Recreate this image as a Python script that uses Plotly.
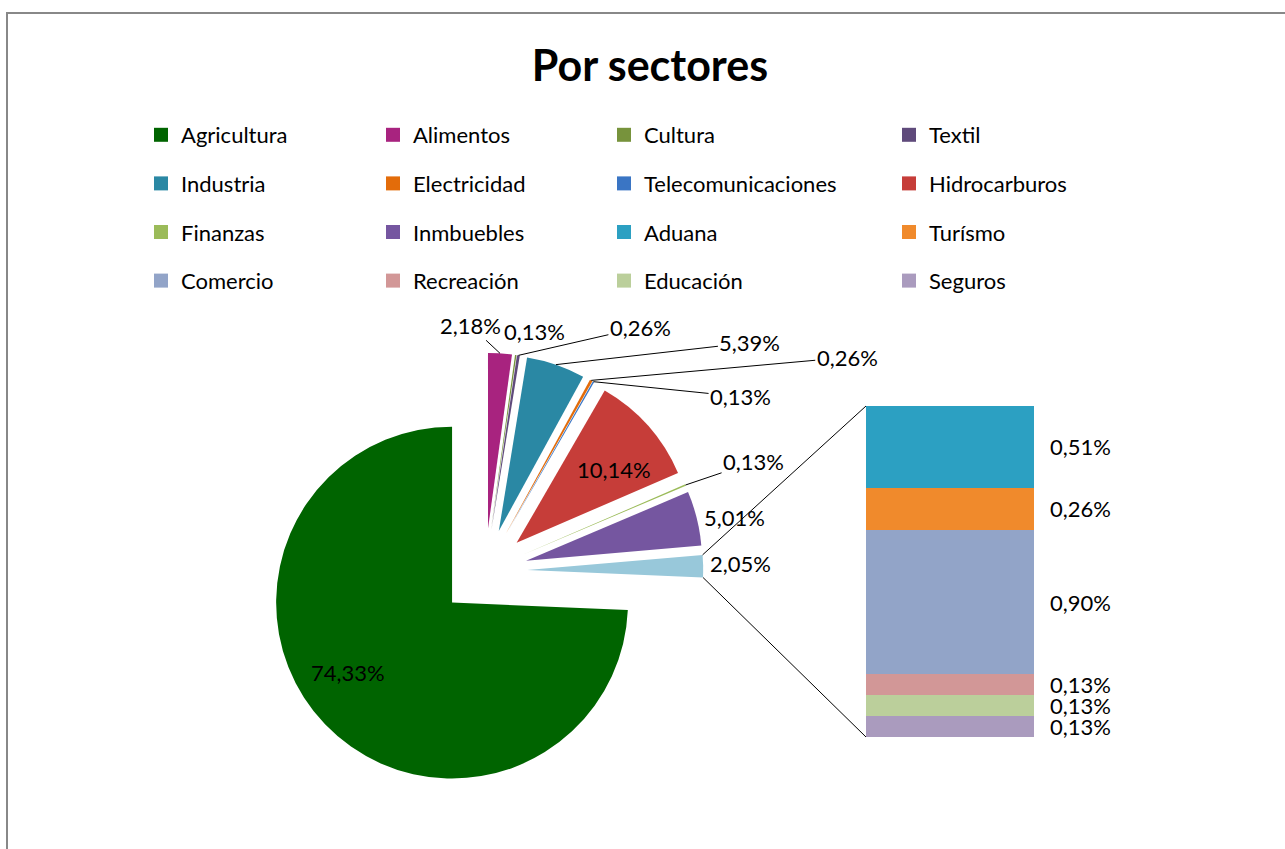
import math
import plotly.graph_objects as go

W, H = 1285, 849

# pie categories (Excel "pie of bar": the last pie slice is split into the bar)
sectores = ["Agricultura", "Alimentos", "Cultura", "Textil", "Industria",
            "Electricidad", "Telecomunicaciones", "Hidrocarburos", "Finanzas", "Inmbuebles"]
porcentajes = [74.33, 2.18, 0.13, 0.26, 5.39, 0.26, 0.13, 10.14, 0.13, 5.01]
colores = ["#006400", "#A8237F", "#77933C", "#5F4A7B", "#2A88A4",
           "#E36C0A", "#3A75C4", "#C63D39", "#9BBB59", "#7556A0"]

otro_nombre = "Otros"
otro_pct = 2.05
otro_color = "#98C8DA"

# detail bar
detalle = ["Aduana", "Turísmo", "Comercio", "Recreación", "Educación", "Seguros"]
detalle_pct = [0.51, 0.26, 0.90, 0.13, 0.13, 0.13]
detalle_colores = ["#2CA0C2", "#F08A2C", "#92A4C8", "#D29797", "#BBCF9B", "#AA9BBE"]

FONT = "Lato"


def fmt(v):
    return f"{v:.2f}".replace(".", ",") + "%"


labels = sectores + [otro_nombre]
values = porcentajes + [otro_pct]
pie_colors = colores + [otro_color]
pulls = [0.26] + [0.24] * (len(values) - 1)
total = sum(values)
rotation = 360 * (total - values[0]) / total

pie_x = [0.205, 0.55]
pie_y = [0.066, 0.589]
bar_x = [866 / W, 1034 / W]
bar_y = [1 - 737 / H, 1 - 406 / H]

# same geometry plotly uses for the pie, to hook labels and connectors on it
r = min(W * (pie_x[1] - pie_x[0]), H * (pie_y[1] - pie_y[0])) / (2 + 2 * max(pulls))
cx = W * sum(pie_x) / 2
cy = H * (1 - sum(pie_y) / 2)


def unit(deg):
    return math.sin(math.radians(deg)), -math.cos(math.radians(deg))


slices = []
a = rotation
for v, p in zip(values, pulls):
    span = 360 * v / total
    ux, uy = unit(a + span / 2)
    ox, oy = cx + p * r * ux, cy + p * r * uy
    slices.append(dict(a0=a, a1=a + span, ox=ox, oy=oy, ux=ux, uy=uy))
    a += span


def paper(px, py):
    return px / W, 1 - py / H


fig = go.Figure()

fig.add_trace(go.Pie(
    labels=labels, values=values, sort=False, direction="clockwise",
    rotation=rotation, pull=pulls, domain=dict(x=pie_x, y=pie_y),
    marker=dict(colors=pie_colors, line=dict(width=0)),
    textinfo="none", showlegend=False, hoverinfo="label+percent",
))

for name, v, c in zip(detalle, detalle_pct, detalle_colores):
    fig.add_trace(go.Bar(x=[otro_nombre], y=[v], name=name, width=1,
                         marker=dict(color=c, line=dict(width=0)),
                         showlegend=False, hoverinfo="name+y"))

# legend: 4 columns, filled row by row like the original
orden = sectores + detalle
orden_colores = colores + detalle_colores
for i, (name, c) in enumerate(zip(orden, orden_colores)):
    fig.add_trace(go.Scatter(
        x=[None], y=[None], mode="markers", name=name, legendgroup=name,
        marker=dict(symbol="square", size=14, color=c),
        legend="legend" if i % 4 == 0 else f"legend{i % 4 + 1}",
    ))

ann = []
lab = dict(xref="paper", yref="paper", xanchor="center", yanchor="middle")

# inside labels (shift in px)
dentro = {0: (-15, -15), 7: (5, 9)}
for i, (dx, dy) in dentro.items():
    s = slices[i]
    x, y = paper(s["ox"] + 0.7 * r * s["ux"] + dx, s["oy"] + 0.7 * r * s["uy"] + dy)
    ann.append(dict(lab, x=x, y=y, text=fmt(values[i]), showarrow=False))

# outside labels: (offset x, offset y, leader line)
fuera = {1: (-30, -28, True), 2: (19, -23, False), 3: (122, -28, True), 4: (194, -22, True),
         5: (256, -23, True), 6: (147, 15, True), 8: (68, -23, True), 9: (38, -1, False),
         10: (37, -3, False)}
for i, (dx, dy, linea) in fuera.items():
    s = slices[i]
    x, y = paper(s["ox"] + r * s["ux"], s["oy"] + r * s["uy"])
    if linea:
        ann.append(dict(lab, x=x, y=y, text=fmt(values[i]),
                        showarrow=True, arrowhead=0, arrowwidth=1, arrowcolor="black",
                        ax=dx, ay=dy, standoff=0))
    else:
        ann.append(dict(lab, x=x, y=y, text=fmt(values[i]),
                        showarrow=False, xshift=dx, yshift=-dy))

# bar labels
acum = 0
for v in detalle_pct:
    ann.append(dict(x=0.5, y=acum + v / 2, xref="x", yref="y", text=fmt(v),
                    showarrow=False, xanchor="left", yanchor="middle", xshift=14))
    acum += v

# connectors from the "Otros" slice to the bar
s = slices[-1]
shapes = []
for ang, yb in ((s["a0"], bar_y[1]), (s["a1"], bar_y[0])):
    ux, uy = unit(ang)
    x0, y0 = paper(s["ox"] + r * ux, s["oy"] + r * uy)
    shapes.append(dict(type="line", xref="paper", yref="paper", x0=x0, y0=y0, x1=bar_x[0], y1=yb,
                       line=dict(color="black", width=1)))

# chart border (right and bottom edges lie outside the picture)
shapes.append(dict(type="rect", xref="paper", yref="paper", x0=7 / W, x1=1.05, y0=-0.1, y1=1 - 13 / H,
                   line=dict(color="#888888", width=2)))

leg = dict(orientation="v", yanchor="top", y=1 - 114 / H, xanchor="left",
           font=dict(family=FONT, size=22, color="black"), tracegroupgap=17, itemsizing="trace",
           bgcolor="rgba(0,0,0,0)", itemclick=False, itemdoubleclick=False)
col_x = [141, 373, 604, 889]

fig.update_layout(
    width=W, height=H,
    margin=dict(l=0, r=0, t=0, b=0),
    paper_bgcolor="white", plot_bgcolor="rgba(0,0,0,0)",
    font=dict(family=FONT, size=22, color="black"),
    title=dict(text="<b>Por sectores</b>", x=650 / W, xanchor="center", y=1 - 66 / H, yanchor="middle",
               font=dict(family=FONT, size=43, color="black")),
    barmode="stack", bargap=0,
    xaxis=dict(type="category", domain=bar_x, range=[-0.5, 0.5], visible=False, fixedrange=True),
    yaxis=dict(domain=bar_y, range=[sum(detalle_pct), 0], visible=False, fixedrange=True),
    legend=dict(leg, x=col_x[0] / W),
    legend2=dict(leg, x=col_x[1] / W),
    legend3=dict(leg, x=col_x[2] / W),
    legend4=dict(leg, x=col_x[3] / W),
    annotations=ann,
    shapes=shapes,
)

# the page body has a default 8px margin; drop it so the figure sits at the window corner
fig.write_html("out.html", config={"displayModeBar": False},
               post_script="document.body.style.margin = '0px';")
